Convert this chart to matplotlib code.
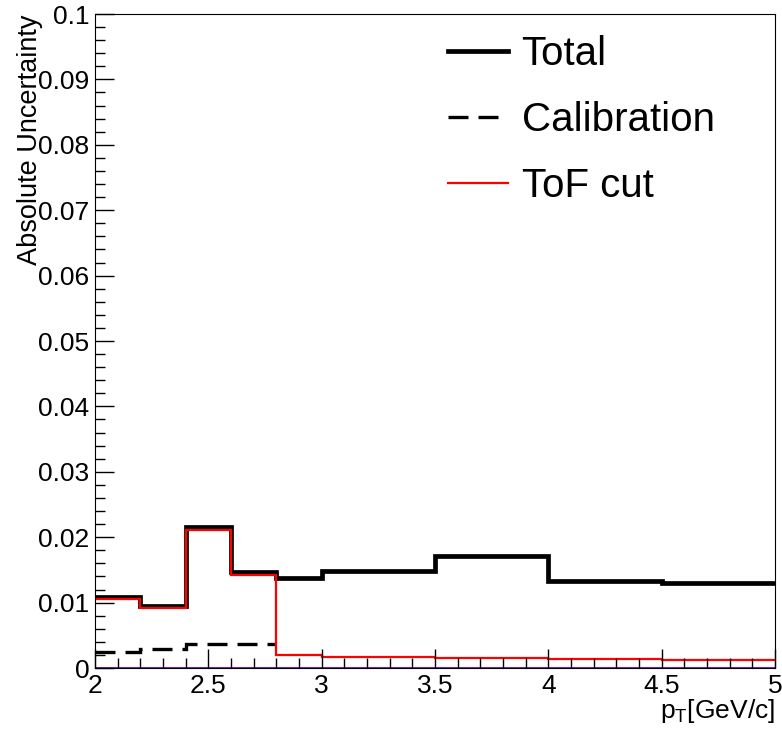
import matplotlib.pyplot as plt
from matplotlib.ticker import MultipleLocator

plt.rcParams['font.family'] = ['Liberation Sans', 'DejaVu Sans']

# bin edges in pT
edges = [2.0, 2.2, 2.4, 2.6, 2.8, 3.0, 3.5, 4.0, 4.5, 5.0]

# uncertainties per bin
total = [0.0108, 0.0095, 0.0216, 0.0147, 0.0138, 0.0148, 0.0171, 0.0133, 0.0130]
tof_cut = [0.0106, 0.0092, 0.0211, 0.0142, 0.0020, 0.0017, 0.0015, 0.0014, 0.0013]
calib_edges = [2.0, 2.2, 2.4, 2.6, 2.8]
calibration = [0.0025, 0.0029, 0.0037, 0.0036]
other = [0, 0, 0, 0, 0, 0, 0, 0, 0]

fig = plt.figure(figsize=(7.82, 7.34), dpi=100)
ax = fig.add_axes([0.1215, 0.0899, 0.8695, 0.8910])

ax.stairs(other, edges, color='#8000c0', lw=2.0, baseline=None)
ax.stairs(total, edges, color='black', lw=3.4, baseline=None, label='Total')
ax.stairs(calibration, calib_edges, color='black', lw=2.4, ls=(0, (6, 3)),
          baseline=None, label='Calibration')
ax.stairs(tof_cut, edges, color='red', lw=1.6, baseline=None, label='ToF cut')

ax.set_xlim(2, 5)
ax.set_ylim(0, 0.1)

ax.xaxis.set_major_locator(MultipleLocator(0.5))
ax.xaxis.set_minor_locator(MultipleLocator(0.1))
ax.yaxis.set_major_locator(MultipleLocator(0.01))
ax.yaxis.set_minor_locator(MultipleLocator(0.002))
ax.tick_params(which='both', direction='in', top=False, right=False, labelsize=19, width=1)
ax.tick_params(which='major', length=14)
ax.tick_params(which='minor', length=7)
ax.tick_params(axis='x', pad=4)
ax.tick_params(axis='y', pad=4)

ax.set_xticks([2, 2.5, 3, 3.5, 4, 4.5, 5])
ax.set_xticklabels(['2', '2.5', '3', '3.5', '4', '4.5', '5'])
ax.set_yticks([0, 0.01, 0.02, 0.03, 0.04, 0.05, 0.06, 0.07, 0.08, 0.09, 0.1])
ax.set_yticklabels(['0', '0.01', '0.02', '0.03', '0.04', '0.05', '0.06', '0.07',
                    '0.08', '0.09', '0.1'])

ax.set_ylabel('Absolute Uncertainty', fontsize=19.5, loc='top')
ax.yaxis.set_label_coords(-0.077, 1.0)
ax.set_xlabel(r'p$_{\mathregular{T}}$[GeV/c]', fontsize=19, loc='right', va='top')
ax.xaxis.set_label_coords(1.0, -0.045)

leg = ax.legend(loc='upper left', bbox_to_anchor=(0.519, 0.968), frameon=False,
                fontsize=29, handlelength=1.5, handletextpad=0.33, labelspacing=0.7,
                borderpad=0, borderaxespad=0)

fig.savefig('out.png', dpi=100)
